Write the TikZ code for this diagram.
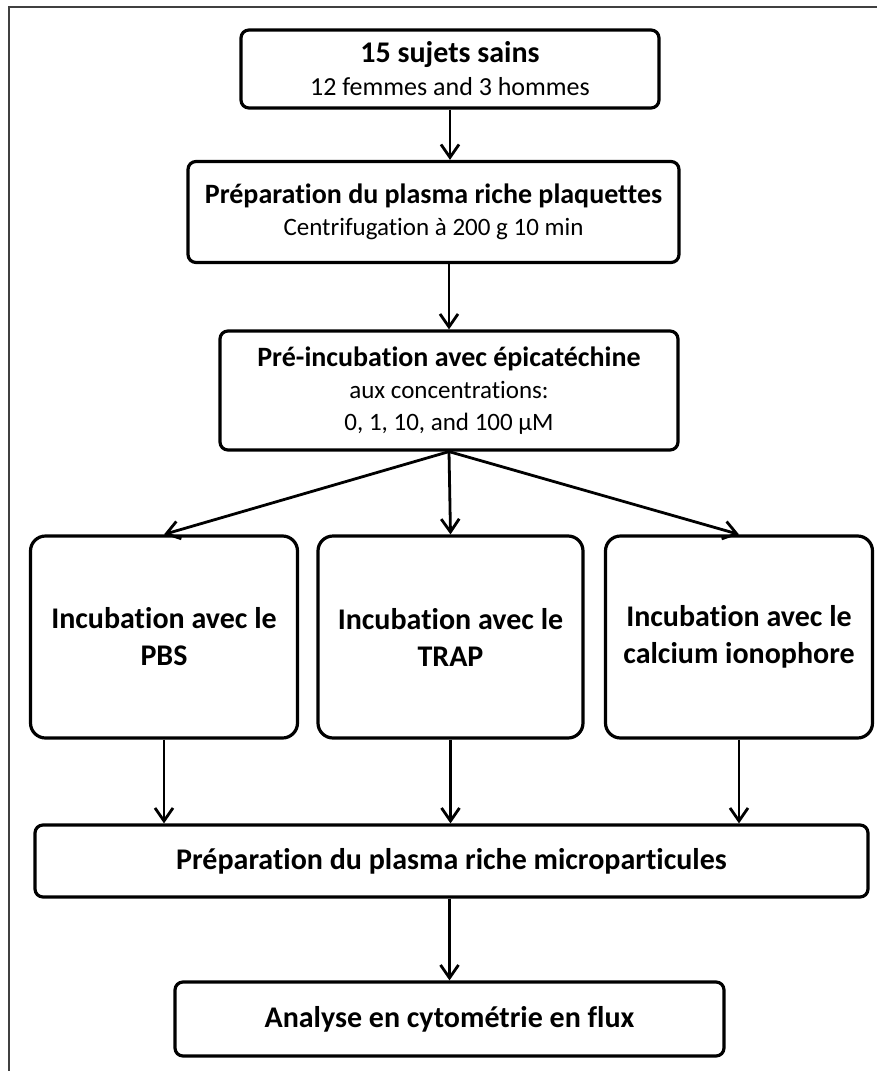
\documentclass[tikz,border=0pt]{standalone}
\usepackage{fontspec}
\setmainfont{Carlito}[Ligatures={NoCommon}]
\usetikzlibrary{arrows.meta,positioning}

\begin{document}
\begin{tikzpicture}[
    x=1pt, y=-1pt,
    box/.style={draw, line width=3.2pt, rounded corners=8pt, align=center, inner sep=0pt, font=\fontsize{25}{32}\selectfont},
    tall/.style={box, rounded corners=15pt, minimum width=267pt, minimum height=202pt, font=\fontsize{30}{37}\selectfont\bfseries},
    arrow/.style={-{Straight Barb[length=13pt, width=18pt]}, line width=2.8pt},
    frame/.style={line width=1.2pt, black!75},
    head/.style={font=\fontsize{30}{32}\selectfont\bfseries}
]
\useasboundingbox (0,0) rectangle (877,1071);
% Frame
\draw[frame] (9,1071) -- (9,7) -- (877,7);

% Subjects
\node[box, minimum width=418pt, minimum height=78pt, font=\fontsize{26}{33}\selectfont] (subjects) at (450,69) {
    {\fontsize{30}{33}\selectfont\bfseries 15 sujets sains}\\
    12 femmes and 3 hommes
};

% Platelet rich plasma
\node[box, minimum width=491pt, minimum height=101pt] (prp) at (433.5,212) {
    {\fontsize{28}{32}\selectfont\bfseries Préparation du plasma riche plaquettes}\\
    Centrifugation à 200 g 10 min
};

% Pre-incubation
\node[box, minimum width=458pt, minimum height=119pt] (preinc) at (449,390.5) {
    {\fontsize{28}{32}\selectfont\bfseries Pré-incubation avec épicatéchine}\\
    aux concentrations:\\
    0, 1, 10, and 100 µM
};

% Incubations
\node[tall] (pbs) at (164,637) {Incubation avec le\\PBS};
\node[tall, minimum width=265pt] (trap) at (450.5,637) {Incubation avec le\\TRAP};
\node[tall] (iono) at (739,637) {Incubation avec le\\calcium ionophore};

% Microparticles
\node[box, head, minimum width=833pt, minimum height=72pt] (micro) at (451.5,861) {Préparation du plasma riche microparticules};

% Flow cytometry
\node[box, head, minimum width=549pt, minimum height=74pt] (flow) at (449.5,1019) {Analyse en cytométrie en flux};

% Arrows
\draw[arrow] (subjects.south) -- (subjects.south |- prp.north);
\draw[arrow] (preinc.north |- prp.south) -- (preinc.north);
\draw[arrow] (preinc.south) -- (pbs.north);
\draw[arrow] (preinc.south) -- (trap.north);
\draw[arrow] (preinc.south) -- (iono.north);
\draw[arrow] (pbs.south) -- (pbs.south |- micro.north);
\draw[arrow] (trap.south) -- (trap.south |- micro.north);
\draw[arrow] (iono.south) -- (iono.south |- micro.north);
\draw[arrow] (flow.north |- micro.south) -- (flow.north);

\end{tikzpicture}
\end{document}
